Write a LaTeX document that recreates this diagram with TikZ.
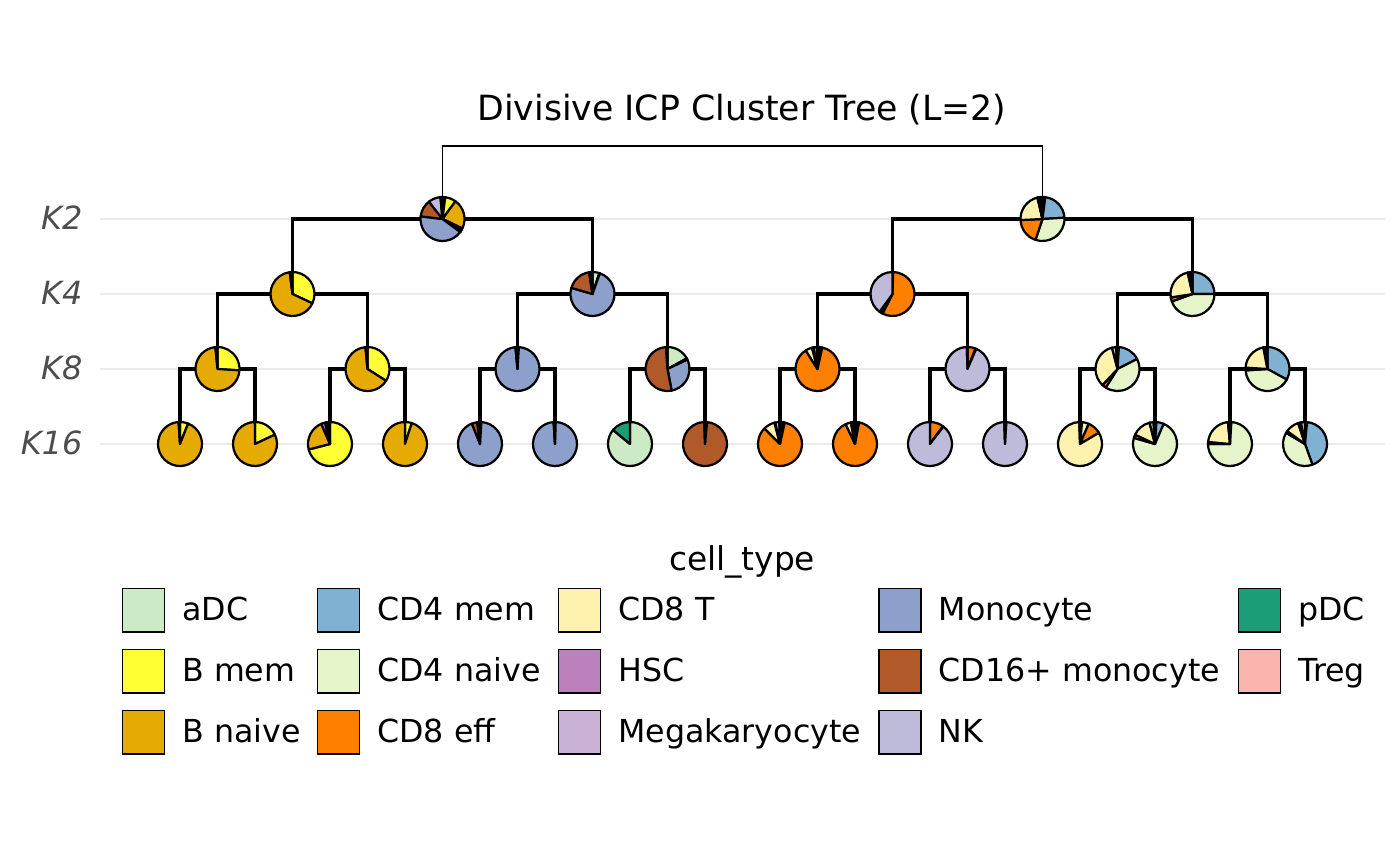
\documentclass[tikz,border=0pt]{standalone}
\usepackage{fontspec}
\setmainfont{DejaVu Sans}
\usetikzlibrary{positioning}

\definecolor{adc}{HTML}{CCEBC5}
\definecolor{bmem}{HTML}{FFFF33}
\definecolor{bnaive}{HTML}{E6AB02}
\definecolor{cd4mem}{HTML}{80B1D3}
\definecolor{cd4naive}{HTML}{E6F5C9}
\definecolor{cd8eff}{HTML}{FF7F00}
\definecolor{cd8t}{HTML}{FFF2AE}
\definecolor{hsc}{HTML}{BC80BD}
\definecolor{mega}{HTML}{CAB2D6}
\definecolor{mono}{HTML}{8DA0CB}
\definecolor{cd16mono}{HTML}{B15928}
\definecolor{nk}{HTML}{BEBADA}
\definecolor{pdc}{HTML}{1B9E77}
\definecolor{treg}{HTML}{FBB4AE}
\definecolor{gridgrey}{HTML}{EBEBEB}
\definecolor{axisgrey}{HTML}{4D4D4D}

\def\pieradius{7.92pt}
% pie at a named coordinate, slices given as value/colour, clockwise from 12 o'clock
\newcommand{\cpie}[2]{%
  \def\pietotal{0}%
  \foreach \v/\c in {#2}{\pgfmathsetmacro\pietmp{\pietotal+\v}\global\let\pietotal\pietmp}%
  \def\pieangle{90}%
  \foreach \v/\c in {#2}{%
    \pgfmathsetmacro\pieend{\pieangle-360*(\v/\pietotal)}%
    \draw[slice, fill=\c] (#1) -- ++(\pieangle:\pieradius)
      arc[start angle=\pieangle, end angle=\pieend, radius=\pieradius] -- cycle;
    \global\let\pieangle\pieend}%
}

\begin{document}
\begin{tikzpicture}[x=0.36pt, y=0.36pt,
  slice/.style = {draw=black, line width=0.8pt, line join=round},
  branch/.style = {draw=black, line width=1.1pt},
  rootbranch/.style = {draw=black, line width=0.4pt},
  gridline/.style = {draw=gridgrey, line width=0.7pt},
  lvl/.style = {anchor=east, inner sep=0pt, text=axisgrey,
    font=\fontsize{11.5}{13}\selectfont\itshape, text height=0.73em, text depth=0pt},
  legbox/.style = {draw=black, line width=0.6pt, minimum width=15.2pt,
    minimum height=15.6pt, inner sep=0pt},
  legtext/.style = {inner sep=0pt, font=\fontsize{11.4}{13}\selectfont,
    text height=0.73em, text depth=0pt}]

\path[fill=white, use as bounding box] (0,0) rectangle (1400,866);

% levels
\foreach \lab/\yy in {K2/647, K4/572, K8/497, K16/422} {
  \draw[gridline] (100,\yy) -- (1385,\yy);
  \node[lvl] (lvl-\lab) at (83,\yy) {\lab};
}

\node[inner sep=0pt, font=\fontsize{12.5}{15}\selectfont, text height=0.73em, text depth=0pt]
  (title) at (742,756) {Divisive ICP Cluster Tree (L=2)};

% cluster positions
\foreach \i in {1,...,16} \coordinate (k16-\i) at ({180+75*(\i-1)},422);
\foreach \i in {1,...,8} \coordinate (k8-\i) at ({217.5+150*(\i-1)},497);
\foreach \i in {1,...,4} \coordinate (k4-\i) at ({292.5+300*(\i-1)},572);
\coordinate (k2-1) at (442.5,647);
\coordinate (k2-2) at (1042.5,647);
\coordinate (root) at (742.5,720);

% branches
\draw[rootbranch] (root) -| (k2-1);
\draw[rootbranch] (root) -| (k2-2);
\foreach \up/\down/\n in {2/4/2, 4/8/4, 8/16/8} {
  \foreach \i in {1,...,\n} {
    \pgfmathtruncatemacro\lft{2*\i-1}
    \pgfmathtruncatemacro\rgt{2*\i}
    \draw[branch] (k\up-\i) -| (k\down-\lft);
    \draw[branch] (k\up-\i) -| (k\down-\rgt);
  }
}

% K2
\cpie{k2-1}{2/adc, 8/bmem, 22/bnaive, 0.6/cd4mem, 0.6/cd4naive, 0.6/cd8eff, 0.6/cd8t,
  0.3/hsc, 0.3/mega, 41.7/mono, 12.5/cd16mono, 9/nk, 1/pdc, 0.5/treg}
\cpie{k2-2}{0.5/adc, 0.5/bmem, 1/bnaive, 22/cd4mem, 31/cd4naive, 19/cd8eff, 22/cd8t,
  0.3/hsc, 0.3/mega, 0.5/mono, 0.3/cd16mono, 1/nk, 0.3/pdc, 1/treg}
% K4
\cpie{k4-1}{32/bmem, 66/bnaive, 1/mono, 1/nk}
\cpie{k4-2}{5/adc, 0.5/bnaive, 74/mono, 18/cd16mono, 2/nk, 0.5/pdc}
\cpie{k4-3}{0.5/cd4naive, 57/cd8eff, 2/cd8t, 0.5/mega, 40/nk}
\cpie{k4-4}{25/cd4mem, 44.5/cd4naive, 3/cd8eff, 24/cd8t, 1.5/nk, 2/treg}
% K8
\cpie{k8-1}{26/bmem, 72.5/bnaive, 1.5/mono}
\cpie{k8-2}{34/bmem, 64.5/bnaive, 1.5/nk}
\cpie{k8-3}{0.5/adc, 0.5/bnaive, 97.5/mono, 0.5/cd16mono, 1/nk}
\cpie{k8-4}{17/adc, 0.5/bnaive, 0.5/cd4mem, 29/mono, 52/cd16mono, 1/nk}
\cpie{k8-5}{0.5/bnaive, 1/cd4mem, 2/cd4naive, 87.5/cd8eff, 5/cd8t, 1/mega, 2.5/nk, 0.5/treg}
\cpie{k8-6}{6/cd8eff, 0.5/cd8t, 93/nk, 0.5/treg}
\cpie{k8-7}{1/bnaive, 16.5/cd4mem, 41.5/cd4naive, 3/cd8eff, 34/cd8t, 3/nk, 1/treg}
\cpie{k8-8}{33/cd4mem, 41/cd4naive, 2/cd8eff, 21/cd8t, 1/nk, 2/treg}
% K16
\cpie{k16-1}{6/bmem, 93/bnaive, 1/mono}
\cpie{k16-2}{18/bmem, 82/bnaive}
\cpie{k16-3}{71/bmem, 22.5/bnaive, 3/hsc, 1/mega, 2/pdc, 0.5/treg}
\cpie{k16-4}{5/bmem, 95/bnaive}
\cpie{k16-5}{1/bnaive, 93/mono, 4/cd16mono, 1/nk, 1/pdc}
\cpie{k16-6}{0.5/bnaive, 98.5/mono, 0.5/cd16mono, 0.5/nk}
\cpie{k16-7}{86/adc, 14/pdc}
\cpie{k16-8}{1.5/mono, 98/cd16mono, 0.5/nk}
\cpie{k16-9}{1.5/cd4mem, 2/cd4naive, 84/cd8eff, 8.5/cd8t, 0.5/mega, 3/nk, 0.5/treg}
\cpie{k16-10}{1/cd4mem, 2/cd4naive, 90/cd8eff, 4/cd8t, 2/nk, 1/treg}
\cpie{k16-11}{10/cd8eff, 0.5/cd8t, 89.5/nk}
\cpie{k16-12}{1/cd8eff, 98.5/nk, 0.5/treg}
\cpie{k16-13}{1.5/cd4mem, 5/cd4naive, 10/cd8eff, 83/cd8t, 0.5/nk}
\cpie{k16-14}{1/bnaive, 5.5/cd4mem, 73/cd4naive, 2.5/cd8eff, 14/cd8t, 3/nk, 1/treg}
\cpie{k16-15}{1/cd4mem, 74/cd4naive, 1.5/cd8eff, 22/cd8t, 1/nk, 0.5/treg}
\cpie{k16-16}{0.5/adc, 1/bnaive, 43/cd4mem, 39/cd4naive, 1.5/cd8eff, 10/cd8t, 2/nk, 3/treg}

% legend
\node[inner sep=0pt, font=\fontsize{11.8}{14}\selectfont, text height=0.73em, text depth=0pt]
  (legtitle) at (742,306) {cell\_type};
\foreach \xx/\row/\c/\lab in {143.5/1/adc/aDC, 143.5/2/bmem/B mem, 143.5/3/bnaive/B naive,
    338.5/1/cd4mem/CD4 mem, 338.5/2/cd4naive/CD4 naive, 338.5/3/cd8eff/CD8 eff,
    579.5/1/cd8t/CD8 T, 579.5/2/hsc/HSC, 579.5/3/mega/Megakaryocyte,
    900/1/mono/Monocyte, 900/2/cd16mono/CD16+ monocyte, 900/3/nk/NK,
    1259.5/1/pdc/pDC, 1259.5/2/treg/Treg} {
  \node[legbox, fill=\c] (key-\c) at (\xx,{256-61*(\row-1)}) {};
  \node[legtext, right=5.9pt of key-\c] (lab-\c) {\lab};
}
\end{tikzpicture}
\end{document}
